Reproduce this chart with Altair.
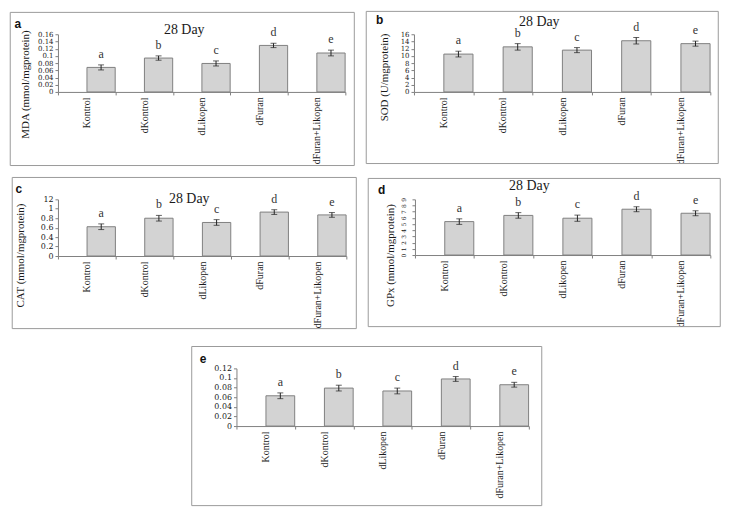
import altair as alt
import pandas as pd

groups = ["Kontrol", "dKontrol", "dLikopen", "dFuran", "dFuran+Likopen"]
sig = ["a", "b", "c", "d", "e"]
panel_letters = ["a", "b", "c", "d", "e"]
day_title = "28 Day"

mda_mean = [0.068, 0.094, 0.079, 0.129, 0.108]
mda_err = [0.007, 0.006, 0.007, 0.006, 0.008]
sod_mean = [10.5, 12.5, 11.6, 14.2, 13.4]
sod_err = [0.8, 0.9, 0.7, 0.9, 0.7]
cat_mean = [0.62, 0.80, 0.71, 0.93, 0.87]
cat_err = [0.06, 0.06, 0.06, 0.05, 0.05]
gpx_mean = [5.4, 6.4, 5.95, 7.4, 6.75]
gpx_err = [0.45, 0.45, 0.5, 0.4, 0.4]
e_mean = [0.063, 0.079, 0.073, 0.098, 0.086]
e_err = [0.006, 0.006, 0.006, 0.005, 0.005]

y_titles = ["MDA (mmol/mgprotein)", "SOD (U/mgprotein)", "CAT (mmol/mgprotein)", "GPx (mmol/mgprotein)", ""]
mda_ticks = [0, 0.02, 0.04, 0.06, 0.08, 0.1, 0.12, 0.14, 0.16]
sod_ticks = [0, 2, 4, 6, 8, 10, 12, 14, 16]
cat_ticks = [0, 0.2, 0.4, 0.6, 0.8, 1, 1.2]
gpx_ticks = [0, 1, 2, 3, 4, 5, 6, 7, 8, 9]
e_ticks = [0, 0.02, 0.04, 0.06, 0.08, 0.1, 0.12]

GRAY = "#808080"
TXT = "#1a1a1a"
FMT = "format(datum.value, '~g')"


def panel(mean, err, letter, ytitle, ticks, W, H, box, title_xy, letter_xy, ytitle_xy,
          label_expr=FMT, small_rot=False, tick_fs=8):
    step = W / 5.0
    off = step / 4.0
    df = pd.DataFrame({
        "group": groups,
        "mean": mean,
        "lo": [m - e for m, e in zip(mean, err)],
        "hi": [m + e for m, e in zip(mean, err)],
        "sig": sig,
    })
    xenc = alt.X("group:N", sort=groups,
                 scale=alt.Scale(paddingInner=0, paddingOuter=0),
                 axis=alt.Axis(title=None, labelAngle=270, labelAlign="right",
                               labelBaseline="middle", labelFont="Liberation Serif",
                               labelFontSize=10, labelColor=TXT, labelPadding=2,
                               tickBand="extent", tickSize=3, tickColor=GRAY,
                               domainColor=GRAY))
    yscale = alt.Scale(domain=[ticks[0], ticks[-1]], nice=False, zero=True)
    ax = dict(values=ticks, grid=False, labelExpr=label_expr, labelFont="DejaVu Serif",
              labelFontSize=tick_fs, labelColor=TXT, tickSize=3, tickColor=GRAY,
              domainColor=GRAY, labelOverlap=False, labelFlush=False, labelPadding=2)
    if small_rot:
        ax.update(labelAngle=270, labelFontSize=6, labelAlign="center",
                  labelBaseline="middle", labelPadding=9)
    if ytitle:
        ax.update(title=ytitle, titleFont="Liberation Serif", titleFontSize=11,
                  titleFontWeight="normal", titleColor=TXT, titleAngle=270,
                  titleAlign="center", titleBaseline="middle",
                  titleX=ytitle_xy[0], titleY=ytitle_xy[1])
    else:
        ax["title"] = None
    yaxis = alt.Axis(**ax)
    ytitle_txt = ytitle if ytitle else None

    base = alt.Chart(df)
    one = pd.DataFrame({"t": [letter], "d": [day_title]})

    border = alt.Chart(one).mark_rect(fill="white", fillOpacity=0, stroke="#9a9a9a",
                                       strokeWidth=1).encode(
        x=alt.value(box[0]), x2=alt.value(box[2]),
        y=alt.value(box[1]), y2=alt.value(box[3]))
    bars = base.mark_bar(fill="#d3d3d3", stroke=GRAY, strokeWidth=1,
                         width=step / 2.0 - 0.5, xOffset=off).encode(
        x=xenc, y=alt.Y("mean:Q", scale=yscale, axis=yaxis, title=ytitle_txt))
    rule = base.mark_rule(color="#222222", strokeWidth=1, xOffset=off).encode(
        x=xenc, y=alt.Y("lo:Q", scale=yscale, axis=yaxis, title=ytitle_txt), y2="hi:Q")
    cap_hi = base.mark_tick(color="#222222", thickness=1, size=6, xOffset=off).encode(
        x=xenc, y=alt.Y("hi:Q", scale=yscale, axis=yaxis, title=ytitle_txt))
    cap_lo = base.mark_tick(color="#222222", thickness=1, size=6, xOffset=off).encode(
        x=xenc, y=alt.Y("lo:Q", scale=yscale, axis=yaxis, title=ytitle_txt))
    sigtxt = base.mark_text(font="Liberation Serif", fontSize=12, color="#333333",
                            baseline="bottom", dy=-4, xOffset=off).encode(
        x=xenc, y=alt.Y("hi:Q", scale=yscale, axis=yaxis, title=ytitle_txt), text="sig:N")
    lett = alt.Chart(one).mark_text(font="Liberation Sans", fontSize=12, fontWeight="bold",
                                    color="#111111", align="center", baseline="middle").encode(
        x=alt.value(letter_xy[0]), y=alt.value(letter_xy[1]), text="t:N")
    layers = [border, bars, rule, cap_hi, cap_lo, sigtxt, lett]
    if title_xy is not None:
        ttl = alt.Chart(one).mark_text(font="Liberation Serif", fontSize=14, color=TXT,
                                       align="center", baseline="alphabetic").encode(
            x=alt.value(title_xy[0]), y=alt.value(title_xy[1]), text="d:N")
        layers.append(ttl)
    return alt.layer(*layers).properties(width=W, height=H)


pa = panel(mda_mean, mda_err, panel_letters[0], y_titles[0], mda_ticks,
           289, 58, (-48, -22, 298, 132), (127, 0), (-40.5, -10.5), (-33, 50), tick_fs=7)
pb = panel(sod_mean, sod_err, panel_letters[1], y_titles[1], sod_ticks,
           298, 58, (-48, -23, 306, 130), (126, -8.5), (-34.5, -14), (-29.5, 43), tick_fs=7)
pc = panel(cat_mean, cat_err, panel_letters[2], y_titles[2], cat_ticks,
           290, 57, (-46, -22, 300, 130), (132, 4), (-39.5, -10.5), (-38, 56),
           label_expr="abs(datum.value - 1.2) < 0.001 ? '12' : format(datum.value, '~g')")
pd_ = panel(gpx_mean, gpx_err, panel_letters[3], y_titles[3], gpx_ticks,
            297, 56, (-47, -21, 307, 128), (115, -9), (-33.5, -9), (-25, 56),
            small_rot=True)
pe = panel(e_mean, e_err, panel_letters[4], y_titles[4], e_ticks,
           294, 58, (-45, -22, 307, 138), None, (-33.5, -9.5), (0, 0))

row1 = alt.hconcat(pa, pb, spacing=10)
row2 = alt.hconcat(pc, pd_, spacing=10)
top = alt.vconcat(row1, row2, spacing=10)
chart = alt.vconcat(top, pe, spacing=16, center=True).properties(
    padding=1, background="white"
).configure_view(stroke=None)

chart.save("out.html", embed_options={"renderer": "svg", "actions": False})
